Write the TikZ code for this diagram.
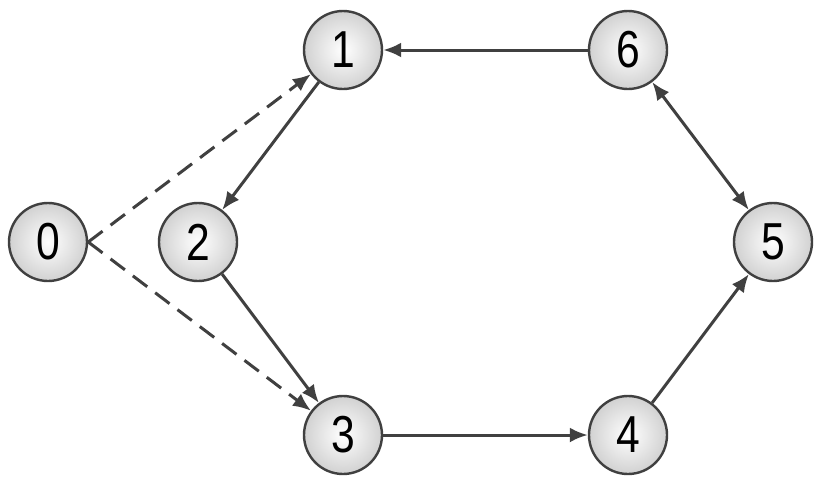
\documentclass[tikz,border=0pt]{standalone}
\usepackage{fontspec}
\setmainfont[FakeStretch=0.82]{Liberation Sans}
\usetikzlibrary{arrows.meta}
\definecolor{edgegray}{HTML}{404040}
\tikzset{
    vertex/.style={circle, draw=edgegray, line width=2.4pt, minimum size=78pt,
        inner sep=0pt, inner color=white, outer color=black!18,
        font=\fontsize{52}{52}\selectfont},
    link/.style={draw=edgegray, line width=3pt, -{Latex[length=18pt, width=15pt]}},
}
\begin{document}
\begin{tikzpicture}[x=1pt, y=-1pt]
        \useasboundingbox (0, 0) rectangle (830, 488);
        \node[vertex] (n0) at (48, 242) {0};
        \node[vertex] (n2) at (198, 242) {2};
        \node[vertex] (n1) at (343, 50) {1};
        \node[vertex] (n6) at (628, 50) {6};
        \node[vertex] (n5) at (773, 242) {5};
        \node[vertex] (n3) at (343, 435) {3};
        \node[vertex] (n4) at (628, 435) {4};
        \draw[link, dashed, dash pattern=on 18pt off 10pt] (n0.east) -- (n1);
        \draw[link, dashed, dash pattern=on 18pt off 10pt] (n0.east) -- (n3);
        \draw[link] (n1) -- (n2);
        \draw[link] (n2) -- (n3);
        \draw[link] (n3) -- (n4);
        \draw[link] (n4) -- (n5);
        \draw[link, {Latex[length=18pt, width=15pt]}-{Latex[length=18pt, width=15pt]}] (n6) -- (n5);
        \draw[link] (n6) -- (n1);
    \end{tikzpicture}
\end{document}
